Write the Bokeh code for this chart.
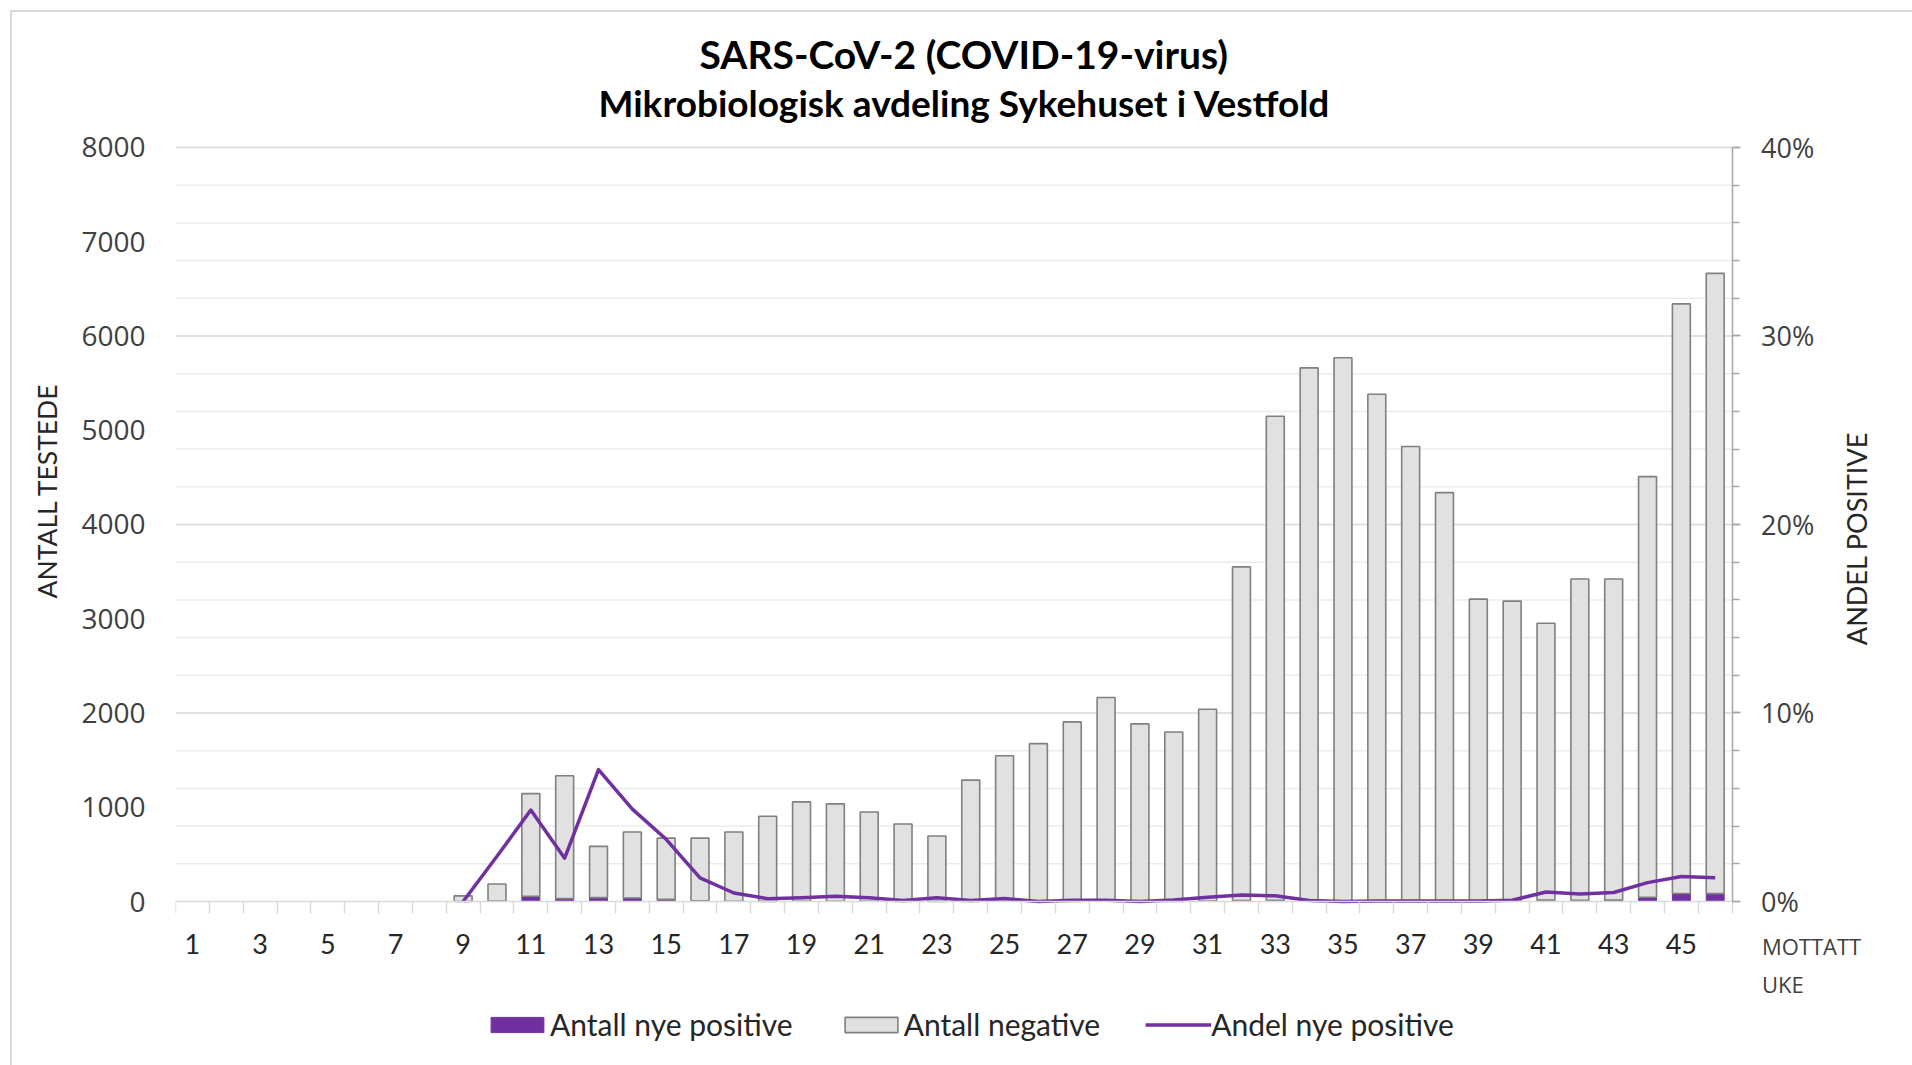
import math
from bokeh.plotting import figure
from bokeh.models import (Range1d, LinearAxis, FixedTicker, NumeralTickFormatter, ColumnDataSource,
                          Legend, LegendItem, Title)
from bokeh.core.properties import value
from bokeh.embed import file_html
from bokeh.resources import INLINE

# ---------------- data ----------------
weeks = list(range(1, 47))
positive = [0, 0, 0, 0, 0, 0, 0, 0,
            0, 4, 55, 31, 41, 37, 23, 8, 3, 1, 2, 3, 2, 0, 1, 1, 2, 0, 1, 2, 0, 1, 5,
            11, 14, 3, 0, 1, 1, 1, 1, 2, 15, 14, 16, 45, 85, 84]
negative = [0, 0, 0, 0, 0, 0, 0, 0,
            60, 181, 1090, 1304, 544, 700, 649, 664, 734, 904, 1055, 1033, 948, 822, 694,
            1287, 1545, 1675, 1905, 2163, 1885, 1797, 2035, 3539, 5134, 5659, 5769, 5381,
            4827, 4337, 3207, 3185, 2938, 3407, 3405, 4463, 6256, 6580]
share_weeks = list(range(9, 47))
share_pct = [0.0, 2.4, 4.85, 2.3, 7.0, 4.9, 3.3, 1.25, 0.45, 0.15, 0.2, 0.28, 0.2, 0.05,
             0.2, 0.05, 0.16, 0.0, 0.06, 0.07, 0.0, 0.08, 0.23, 0.35, 0.3, 0.05, 0.0, 0.03,
             0.03, 0.03, 0.03, 0.07, 0.5, 0.4, 0.48, 1.0, 1.33, 1.26]
x_tick_weeks = list(range(1, 46, 2))
left_ticks = [0, 1000, 2000, 3000, 4000, 5000, 6000, 7000, 8000]
right_ticks = [0.0, 0.1, 0.2, 0.3, 0.4]
grid_light = [400, 800, 1200, 1600, 2400, 2800, 3200, 3600, 4400, 4800, 5200, 5600,
              6400, 6800, 7200, 7600]
grid_dark = [2000, 4000, 6000, 8000]

title_main = "SARS-CoV-2 (COVID-19-virus)"
title_sub = "Mikrobiologisk avdeling Sykehuset i Vestfold"
y_title_left = "ANTALL TESTEDE"
y_title_right = "ANDEL POSITIVE"
x_title = ["MOTTATT", "UKE"]
legend_labels = ["Antall nye positive", "Antall negative", "Andel nye positive"]

# ---------------- layout constants ----------------
PURPLE = "#7030a0"
CAL = "Lato"
GOTH = "Open Sans"
X_LO, X_HI = 0.5, 46.5          # category span of the chart
X_END = 51.86                    # frame runs on to the right edge of the canvas
Y_START, Y_END = -1740, 8159     # frame runs below the axis and slightly above 8000
PCT_PER_UNIT = 0.4 / 8000

keep = [i for i in range(len(weeks)) if positive[i] + negative[i] > 0]
bar_src = ColumnDataSource(dict(
    week=[weeks[i] for i in keep],
    positive=[positive[i] for i in keep],
    negative=[negative[i] for i in keep],
))
line_src = ColumnDataSource(dict(week=share_weeks, share=[v / 100 for v in share_pct]))

p = figure(frame_width=1738, frame_height=933, output_backend="svg", toolbar_location=None,
           x_range=Range1d(X_LO, X_END), y_range=Range1d(Y_START, Y_END),
           min_border_left=162, min_border_right=0, min_border_top=120, min_border_bottom=0,
           title=title_main)
p.styles = {"margin-left": "10px", "margin-top": "10px",
            "border-left": "2px solid #d9d9d9", "border-top": "2px solid #d9d9d9"}
p.outline_line_color = None
p.background_fill_color = "white"
p.border_fill_color = "white"
p.extra_y_ranges = {"pct": Range1d(Y_START * PCT_PER_UNIT, Y_END * PCT_PER_UNIT)}
p.xgrid.visible = False
p.ygrid.visible = False

# titles (p.title is outermost; the added one sits nearer the frame)
p.title.align = "left"
p.title.offset = 524
p.title.text_font = CAL
p.title.text_font_style = "bold"
p.title.text_font_size = "39px"
p.title.text_color = "#000000"
p.title.standoff = -15
p.add_layout(Title(text=title_sub, align="left", offset=423, text_font=CAL,
                   text_font_style="bold", text_font_size="37px", text_color="#000000",
                   standoff=16), "above")

# horizontal gridlines, limited to the category span
p.segment(x0=X_LO, x1=X_HI, y0="y", y1="y", source=ColumnDataSource(dict(y=grid_light)),
          line_color="#ececec", line_width=1.5, level="underlay")
p.segment(x0=X_LO, x1=X_HI, y0="y", y1="y", source=ColumnDataSource(dict(y=grid_dark)),
          line_color="#d9d9d9", line_width=1.5, level="underlay")

# bars
renderers = p.vbar_stack(["positive", "negative"], x="week", width=0.53, source=bar_src,
                         fill_color=[PURPLE, "#e1e1e1"], line_color=[PURPLE, "#808080"],
                         line_width=[1, 1.6])
r_line = p.line("week", "share", source=line_src, y_range_name="pct",
                line_color=PURPLE, line_width=3.5, line_join="round")

# left axis
ya = p.yaxis[0]
ya.ticker = FixedTicker(ticks=left_ticks)
ya.bounds = (0, 8000)
ya.axis_line_color = None
ya.major_tick_line_color = None
ya.minor_tick_line_color = None
ya.major_label_standoff = 24
ya.major_label_text_font = GOTH
ya.major_label_text_font_size = "28px"
ya.major_label_text_color = "#404040"
p.add_layout(Title(text=y_title_left, align="left", offset=467, text_font=CAL,
                   text_font_style="normal", text_font_size="26.5px", text_color="#262626",
                   standoff=32), "left")

# bottom axis, pinned at y = 0
xa = p.xaxis[0]
xa.fixed_location = 0
xa.bounds = (X_LO, X_HI)
xa.ticker = FixedTicker(ticks=x_tick_weeks, minor_ticks=[w + 0.5 for w in range(0, 47)])
xa.axis_line_color = "#d9d9d9"
xa.axis_line_width = 1.5
xa.major_tick_line_color = None
xa.major_tick_out = 0
xa.major_tick_in = 0
xa.minor_tick_out = 12
xa.minor_tick_in = 0
xa.minor_tick_line_color = "#d9d9d9"
xa.minor_tick_line_width = 1.5
xa.major_label_standoff = 20
xa.major_label_text_font = CAL
xa.major_label_text_font_size = "27px"
xa.major_label_text_color = "#262626"

# right axis, pinned at the right end of the categories
ra = LinearAxis(y_range_name="pct",
                ticker=FixedTicker(ticks=right_ticks, minor_ticks=[i * 0.02 for i in range(21)]),
                formatter=NumeralTickFormatter(format="0%"))
ra.fixed_location = X_HI
ra.bounds = (0, 0.4)
ra.axis_line_color = "#a6a6a6"
ra.axis_line_width = 1.5
ra.major_tick_line_color = "#a6a6a6"
ra.minor_tick_line_color = "#a6a6a6"
ra.major_tick_line_width = 1.5
ra.minor_tick_line_width = 1.5
ra.major_tick_out = 8
ra.major_tick_in = 0
ra.minor_tick_out = 7
ra.minor_tick_in = 0
ra.major_label_standoff = 21
ra.major_label_text_font = GOTH
ra.major_label_text_font_size = "27px"
ra.major_label_text_color = "#404040"
p.add_layout(ra, "right")

# axis titles on the right side (inside the extended frame)
p.text(x=[50.19], y=[3851], text=[y_title_right], angle=math.pi / 2,
       text_font=value(CAL), text_font_size="27px", text_color="#262626",
       text_baseline="middle", text_align="center")
p.text(x=[47.38, 47.38], y=[-467, -880], text=x_title, text_font=value(GOTH),
       text_font_size="22px", text_color="#404040", text_baseline="middle", text_align="left")

# legend, inside the (extended) frame below the axis
legend = Legend(items=[LegendItem(label=legend_labels[0], renderers=[renderers[0]]),
                       LegendItem(label=legend_labels[1], renderers=[renderers[1]]),
                       LegendItem(label=legend_labels[2], renderers=[r_line])],
                orientation="horizontal", location=(309, 23),
                border_line_color=None, background_fill_alpha=0,
                glyph_width=66, glyph_height=19, label_standoff=0, spacing=45,
                label_text_font=CAL, label_text_font_size="30px", label_text_color="#262626",
                margin=0, padding=0)
p.add_layout(legend, "center")

open("out.html", "w").write(file_html(p, INLINE))
